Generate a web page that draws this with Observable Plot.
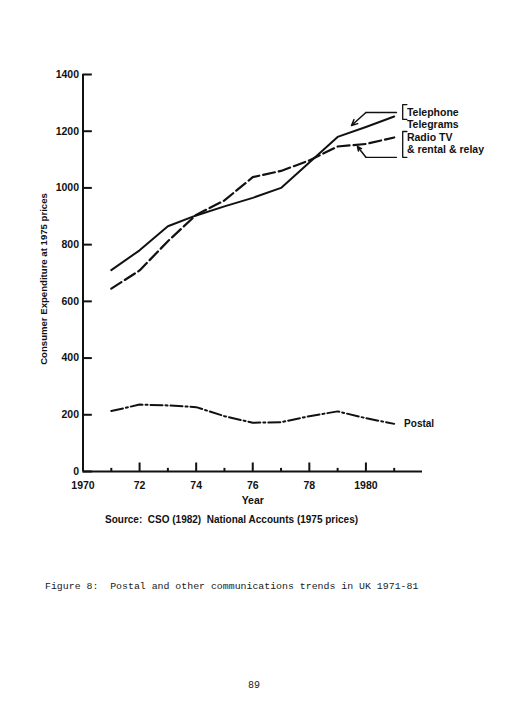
<!DOCTYPE html>
<html>
<head>
<meta charset="utf-8">
<script src="https://cdn.jsdelivr.net/npm/d3@7"></script>
<script src="https://cdn.jsdelivr.net/npm/@observablehq/plot@0.6"></script>
<style>
  html, body { margin: 0; padding: 0; background: #fff; }
  #page { position: relative; width: 522px; height: 705px; overflow: hidden; background: #fff; }
  #chart { position: absolute; left: 0; top: 0; }
  .src { position: absolute; left: 105px; top: 514px;
         font: bold 10px "Liberation Sans", Arial, sans-serif; color: #111; white-space: pre; }
  .cap { position: absolute; left: 45px; top: 581px; font: 9.9px "Liberation Mono", "DejaVu Sans Mono", monospace; color: #1a1a1a; white-space: pre; }
  .pg  { position: absolute; left: 248px; top: 680px; font: 10px "Liberation Mono", "DejaVu Sans Mono", monospace; color: #222; }
</style>
</head>
<body>
<div id="page">
  <div id="chart"></div>
  <div class="src">Source:  CSO (1982)  National Accounts (1975 prices)</div>
  <div class="cap">Figure 8:  Postal and other communications trends in UK 1971-81</div>
  <div class="pg">89</div>
</div>
<script>
// Consumer expenditure at 1975 prices (£m), UK 1971–81
const years     = [1971, 1972, 1973, 1974, 1975, 1976, 1977, 1978, 1979, 1980, 1981];
const telephone = [710, 780, 865, 903, 935, 965, 1000, 1090, 1180, 1215, 1252];
const radioTV   = [645, 709, 812, 905, 956, 1038, 1060, 1097, 1146, 1155, 1178];
const postal    = [213, 236, 233, 227, 195, 172, 174, 195, 212, 188, 168];

// Axis ticks
const yTicks      = [0, 200, 400, 600, 800, 1000, 1200, 1400];
const xMajorTicks = [1970, 1972, 1974, 1976, 1978, 1980];
const xTickLabels = ["1970", "72", "74", "76", "78", "1980"];
const xMinorTicks = [1971, 1973, 1975, 1977, 1979, 1981];

// Annotation layout (data units)
const upperBracket = [{x: 1981.45, y: 1294}, {x: 1981.3, y: 1294}, {x: 1981.3, y: 1242}, {x: 1981.45, y: 1242}];
const lowerBracket = [{x: 1981.45, y: 1199}, {x: 1981.3, y: 1199}, {x: 1981.3, y: 1108}, {x: 1981.45, y: 1108}];
const upperLeader  = [{x: 1981.08, y: 1266}, {x: 1980.0, y: 1266}];
const lowerLeader  = [{x: 1981.08, y: 1108}, {x: 1980.0, y: 1108}];
const arrows = [
  {x1: 1980.0, y1: 1266, x2: 1979.49, y2: 1220},
  {x1: 1980.0, y1: 1108, x2: 1979.70, y2: 1146}
];
const labels = [
  {x: 1981.45, y: 1266, text: "Telephone"},
  {x: 1981.45, y: 1224, text: "Telegrams"},
  {x: 1981.45, y: 1178, text: "Radio TV"},
  {x: 1981.45, y: 1134, text: "& rental & relay"}
];

const rows = (vals) => years.map((yr, i) => ({year: yr, value: vals[i]}));
const font = "Liberation Sans, Arial, sans-serif";
const ink = "#111";

const chart = Plot.plot({
  width: 522,
  height: 510,
  marginLeft: 82.5,
  marginRight: 100,
  marginTop: 74,
  marginBottom: 39,
  style: {fontFamily: font, fontSize: "10.5px", fontWeight: "bold", color: ink, background: "#fff"},
  x: {domain: [1970, 1982]},
  y: {domain: [0, 1400]},
  marks: [
    // axis lines
    Plot.ruleX([1970], {y1: 0, y2: 1400, stroke: ink, strokeWidth: 2}),
    Plot.ruleY([0], {x1: 1970, x2: 1982, stroke: ink, strokeWidth: 2}),
    // inward ticks
    Plot.ruleY(yTicks, {x1: 1970, x2: 1970.33, stroke: ink, strokeWidth: 2}),
    Plot.ruleX(xMajorTicks.slice(1), {y1: 0, y2: 30, stroke: ink, strokeWidth: 2}),
    Plot.ruleX(xMinorTicks, {y1: 0, y2: 11, stroke: ink, strokeWidth: 2}),
    // tick labels
    Plot.axisY(yTicks, {anchor: "left", tickSize: 0, tickPadding: 4, tickFormat: (d) => String(d),
      label: null, fontSize: 10.5}),
    Plot.axisX(xMajorTicks, {anchor: "bottom", tickSize: 0, tickPadding: 10,
      tickFormat: (d) => xTickLabels[xMajorTicks.indexOf(d)], label: "Year", labelAnchor: "center",
      labelOffset: 32, labelArrow: "none", fontSize: 10.5}),
    // y axis title
    Plot.text(["Consumer Expenditure at 1975 prices"], {frameAnchor: "left", text: (d) => d, rotate: -90,
      textAnchor: "middle", dx: -39, dy: 6, fontSize: 9.6, fill: ink}),
    // series
    Plot.line(rows(telephone), {x: "year", y: "value", stroke: ink, strokeWidth: 2}),
    Plot.line(rows(radioTV), {x: "year", y: "value", stroke: ink, strokeWidth: 2.2, strokeDasharray: "12,4"}),
    Plot.line(rows(postal), {x: "year", y: "value", stroke: ink, strokeWidth: 2, strokeDasharray: "12,3,2,3"}),
    Plot.text([{x: 1981.35, y: postal[postal.length - 1]}], {x: "x", y: "y", text: () => "Postal", textAnchor: "start", fontSize: 10, fill: ink}),
    // legend annotations
    Plot.line(upperBracket, {x: "x", y: "y", stroke: ink, strokeWidth: 1.3}),
    Plot.line(lowerBracket, {x: "x", y: "y", stroke: ink, strokeWidth: 1.3}),
    Plot.line(upperLeader, {x: "x", y: "y", stroke: ink, strokeWidth: 1.3}),
    Plot.line(lowerLeader, {x: "x", y: "y", stroke: ink, strokeWidth: 1.3}),
    Plot.arrow(arrows, {x1: "x1", y1: "y1", x2: "x2", y2: "y2", stroke: ink, strokeWidth: 1.5, headLength: 7, headAngle: 50}),
    Plot.text(labels, {x: "x", y: "y", text: "text", textAnchor: "start", fontSize: 10.5, fill: ink})
  ]
});
document.getElementById("chart").appendChild(chart);
</script>
</body>
</html>
